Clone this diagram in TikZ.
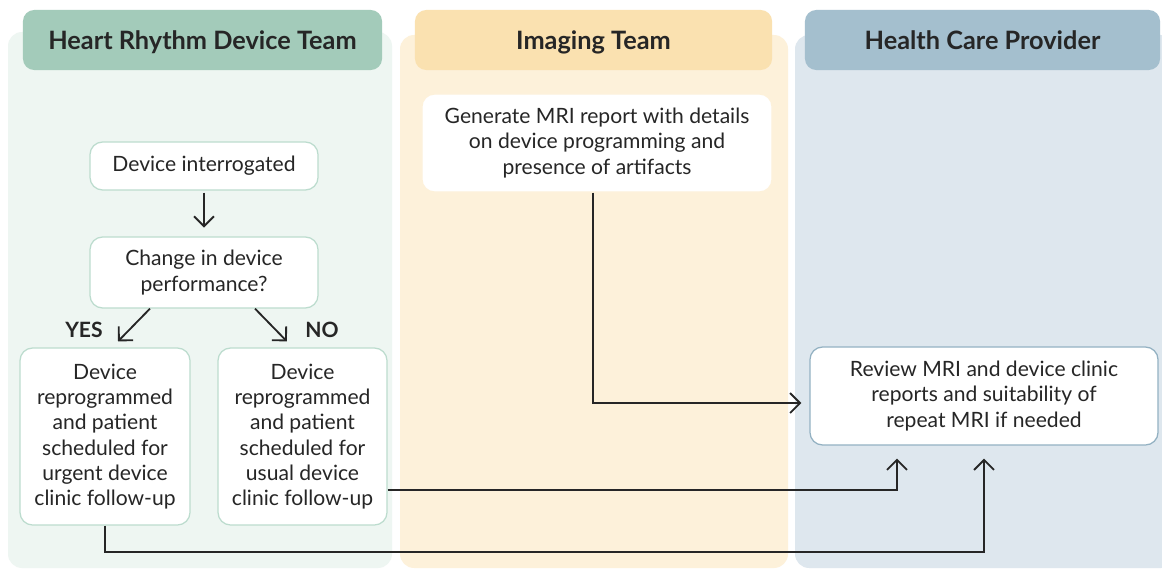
\documentclass[tikz,border=0pt]{standalone}
\usepackage{fontspec}
\setmainfont{Lato}
\usetikzlibrary{arrows.meta}

\tikzset{
    lane/.style={rounded corners=10pt},
    header/.style={rounded corners=8pt, minimum height=1.5cm, text height=0.57cm, text depth=0.1cm,
        font=\fontsize{18}{21}\selectfont\bfseries, text=textgray},
    stepbox/.style={draw=#1, line width=0.9pt, fill=white, rounded corners=9pt, align=center,
        font=\fontsize{15}{18}\selectfont, text=textgray, inner sep=2pt},
    flow/.style={line width=1.3pt, draw=textgray, -{Straight Barb[length=0.25cm, width=0.5cm, line width=1.3pt]}},
    answer/.style={font=\fontsize{15}{18}\selectfont\bfseries, text=textgray}
}

\begin{document}
\begin{tikzpicture}[x=0.025cm, y=-0.025cm]
\definecolor{textgray}{HTML}{262626}
\definecolor{greenbg}{HTML}{EEF6F2}
\definecolor{greenhead}{HTML}{A3CBBA}
\definecolor{greenline}{HTML}{BCDCCE}
\definecolor{yellowbg}{HTML}{FDF1DA}
\definecolor{yellowhead}{HTML}{FAE1B0}
\definecolor{bluebg}{HTML}{DEE7EE}
\definecolor{bluehead}{HTML}{A4BFCE}
\definecolor{blueline}{HTML}{93B1C2}

\useasboundingbox[fill=white] (0, 0) rectangle (1162, 571);

% lanes
\fill[lane, greenbg] (8, 32) rectangle (392, 568);
\fill[lane, yellowbg] (400, 35) rectangle (788, 568);
\fill[lane, bluebg] (795, 35) rectangle (1175, 568);

\node[header, fill=greenhead, minimum width=8.975cm] (hrdt) at (202.5, 40) {Heart Rhythm Device Team};
\node[header, fill=yellowhead, minimum width=8.925cm] (imaging) at (593.5, 40) {Imaging Team};
\node[header, fill=bluehead, minimum width=8.875cm] (hcp) at (982.5, 40) {Health Care Provider};

% steps
\node[stepbox=greenline, minimum width=5.7cm, minimum height=1.2cm] (interr) at (204, 166)
    {Device interrogated};
\node[stepbox=greenline, minimum width=5.7cm, minimum height=1.775cm] (change) at (204, 272.5)
    {Change in device\\performance?};
\node[stepbox=greenline, minimum width=4.25cm, minimum height=4.425cm] (urgent) at (105, 436.5)
    {Device\\reprogrammed\\and patient\\scheduled for\\urgent device\\clinic follow-up};
\node[stepbox=greenline, minimum width=4.225cm, minimum height=4.425cm] (usual) at (302.5, 436.5)
    {Device\\reprogrammed\\and patient\\scheduled for\\usual device\\clinic follow-up};
\node[stepbox=yellowbg, minimum width=8.75cm, minimum height=2.45cm] (report) at (597, 143)
    {Generate MRI report with details\\on device programming and\\presence of artifacts};
\node[stepbox=blueline, minimum width=8.7cm, minimum height=2.45cm] (review) at (984, 396)
    {Review MRI and device clinic\\reports and suitability of\\repeat MRI if needed};

\node[answer] (yes) at (84, 330) {YES};
\node[answer] (no) at (322, 330) {NO};

% connectors
\draw[flow, shorten <=0.05cm, shorten >=0.22cm] (interr) -- (change);
\draw[flow] ([xshift=-1.35cm]change.south) -- ([xshift=0.325cm, yshift=0.15cm]urgent.north);
\draw[flow] ([xshift=1.275cm]change.south) -- ([xshift=-0.39cm, yshift=0.15cm]usual.north);
\draw[flow] ([xshift=-0.1cm]report.south) |- ([xshift=-0.2cm, yshift=-0.175cm]review.west);
\draw[flow] ([yshift=-1.34cm]usual.east) -| ([xshift=-2.175cm, yshift=-0.325cm]review.south);
\draw[flow] (urgent.south) -- ++(0, 26) -| ([yshift=-0.325cm]review.south);

\end{tikzpicture}
\end{document}
